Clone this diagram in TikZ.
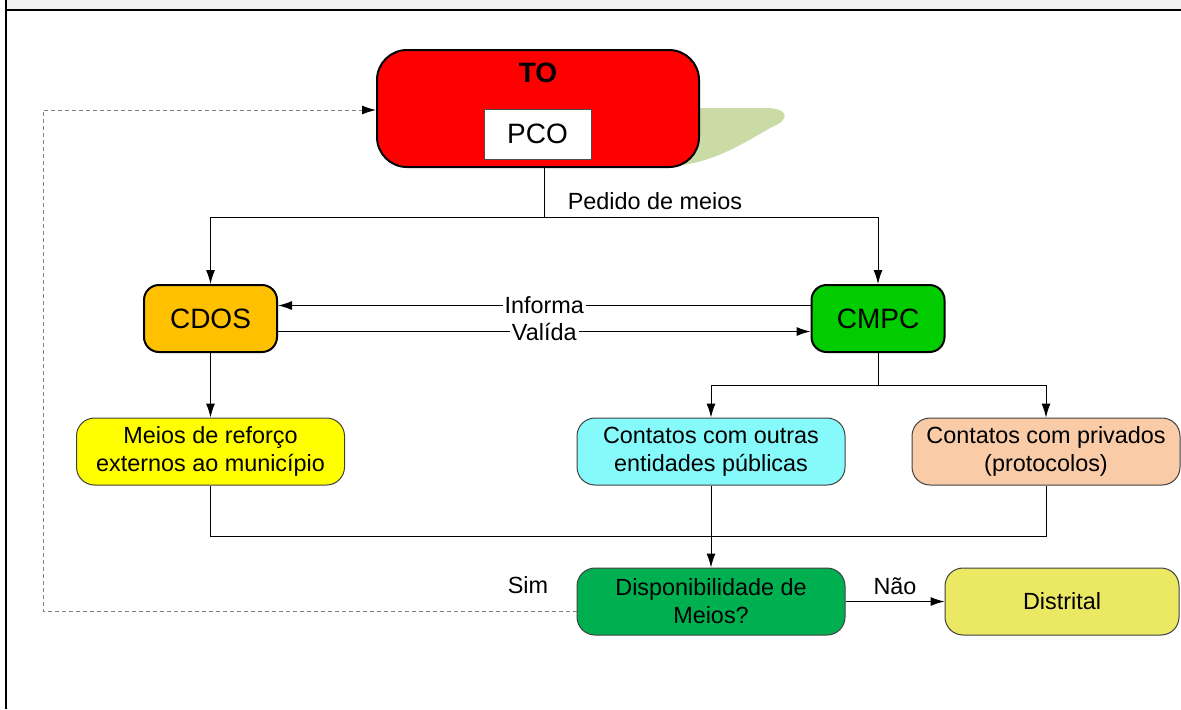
\documentclass[tikz,border=0pt]{standalone}
\usepackage{fontspec}
\setmainfont{Liberation Sans}
\usetikzlibrary{arrows.meta}

\definecolor{toRed}{HTML}{FF0000}
\definecolor{shadowGreen}{HTML}{CADBA6}
\definecolor{cdosOrange}{HTML}{FFC000}
\definecolor{cmpcGreen}{HTML}{00CC00}
\definecolor{meiosYellow}{HTML}{FFFF00}
\definecolor{outrasCyan}{HTML}{86FAFA}
\definecolor{privPeach}{HTML}{F9CBA7}
\definecolor{dispGreen}{HTML}{00B050}
\definecolor{distYellow}{HTML}{EBE863}

\begin{document}
\begin{tikzpicture}[x=0.5pt,y=-0.5pt,->,>={Latex[length=7pt,width=4.5pt]},line width=0.5pt,
  big node/.style={rectangle,rounded corners=7.5pt,draw,line width=1pt,font=\fontsize{14}{17}\selectfont,minimum width=66.5pt,minimum height=33.5pt,inner sep=0pt},
  sub node/.style={rectangle,rounded corners=9pt,draw=black!75,font=\fontsize{11.7}{14}\selectfont,align=center,minimum width=134pt,minimum height=33.5pt,inner sep=0pt},
  edge label/.style={font=\fontsize{11.7}{14}\selectfont}]

  \useasboundingbox (0,0) rectangle (1181,709);
  % header strip and frame
  \fill[-,gray!12] (6,0) rectangle (1181,9);
  \draw[-,line width=1pt] (1181,9.5) -- (6,9.5);
  \draw[-,line width=1pt] (6,0) -- (6,709);

  % shadow behind TO
  \fill[-,shadowGreen] (680,108) -- (765,108) .. controls (790,108) and (790,120) .. (772,127)
    .. controls (740,145) and (710,166) .. (660,167) -- cycle;

  \node[big node,fill=toRed,rounded corners=15pt,minimum width=161pt,minimum height=58.5pt] (to) at (538,108.5) {};
  \node[font=\fontsize{14}{17}\selectfont\bfseries] (tolbl) at (538,73) {TO};
  \node[rectangle,draw=black!70,fill=white,minimum width=53.5pt,minimum height=25pt,inner sep=0pt,font=\fontsize{14}{17}\selectfont] (pco) at (537.5,134) {PCO};

  \node[big node,fill=cdosOrange] (cdos) at (210.5,318.5) {CDOS};
  \node[big node,fill=cmpcGreen] (cmpc) at (878,318.5) {CMPC};
  \node[sub node,fill=meiosYellow] (meios) at (210.5,451.5) {Meios de reforço\\externos ao município};
  \node[sub node,fill=outrasCyan] (outras) at (711,451.5) {Contatos com outras\\entidades públicas};
  \node[sub node,fill=privPeach] (priv) at (1046,451.5) {Contatos com privados\\(protocolos)};
  \node[sub node,fill=dispGreen] (disp) at (711,601.5) {Disponibilidade de\\Meios?};
  \node[sub node,fill=distYellow,minimum width=117pt] (dist) at (1062,601.5) {Distrital};

  \coordinate (split) at (544,217);
  \coordinate (fork) at (878,385);
  \coordinate (join) at (711,536);
  \coordinate (back) at (43,110);

  \draw[-] (to.south -| split) -- (split);
  \draw (split) -| (cdos);
  \draw (split) -| (cmpc);
  \node[edge label] (pedido) at (655,201) {Pedido de meios};

  \path[every node/.style={edge label,fill=white,inner sep=1pt}]
    ([yshift=6.5pt]cmpc.west) edge node {Informa} ([yshift=6.5pt]cdos.east)
    ([yshift=-6.5pt]cdos.east) edge node {Valída} ([yshift=-6.5pt]cmpc.west)
    (cdos) edge (meios)
    (outras) edge (disp);

  \draw[-] (cmpc) -- (fork);
  \draw (fork) -| (outras);
  \draw (fork) -| (priv);
  \draw[-] (meios) |- (join) -| (priv);

  \draw (disp) -- (dist) node[midway,above,edge label] {Não};
  \node[edge label] (sim) at (528,585) {Sim};
  \draw[-{Latex[length=7pt,width=4.5pt,color=black]},draw=gray,dash pattern=on 2pt off 1.5pt]
    ([yshift=-5pt]disp.west) -| (back) -- (to.west |- back);

\end{tikzpicture}
\end{document}
